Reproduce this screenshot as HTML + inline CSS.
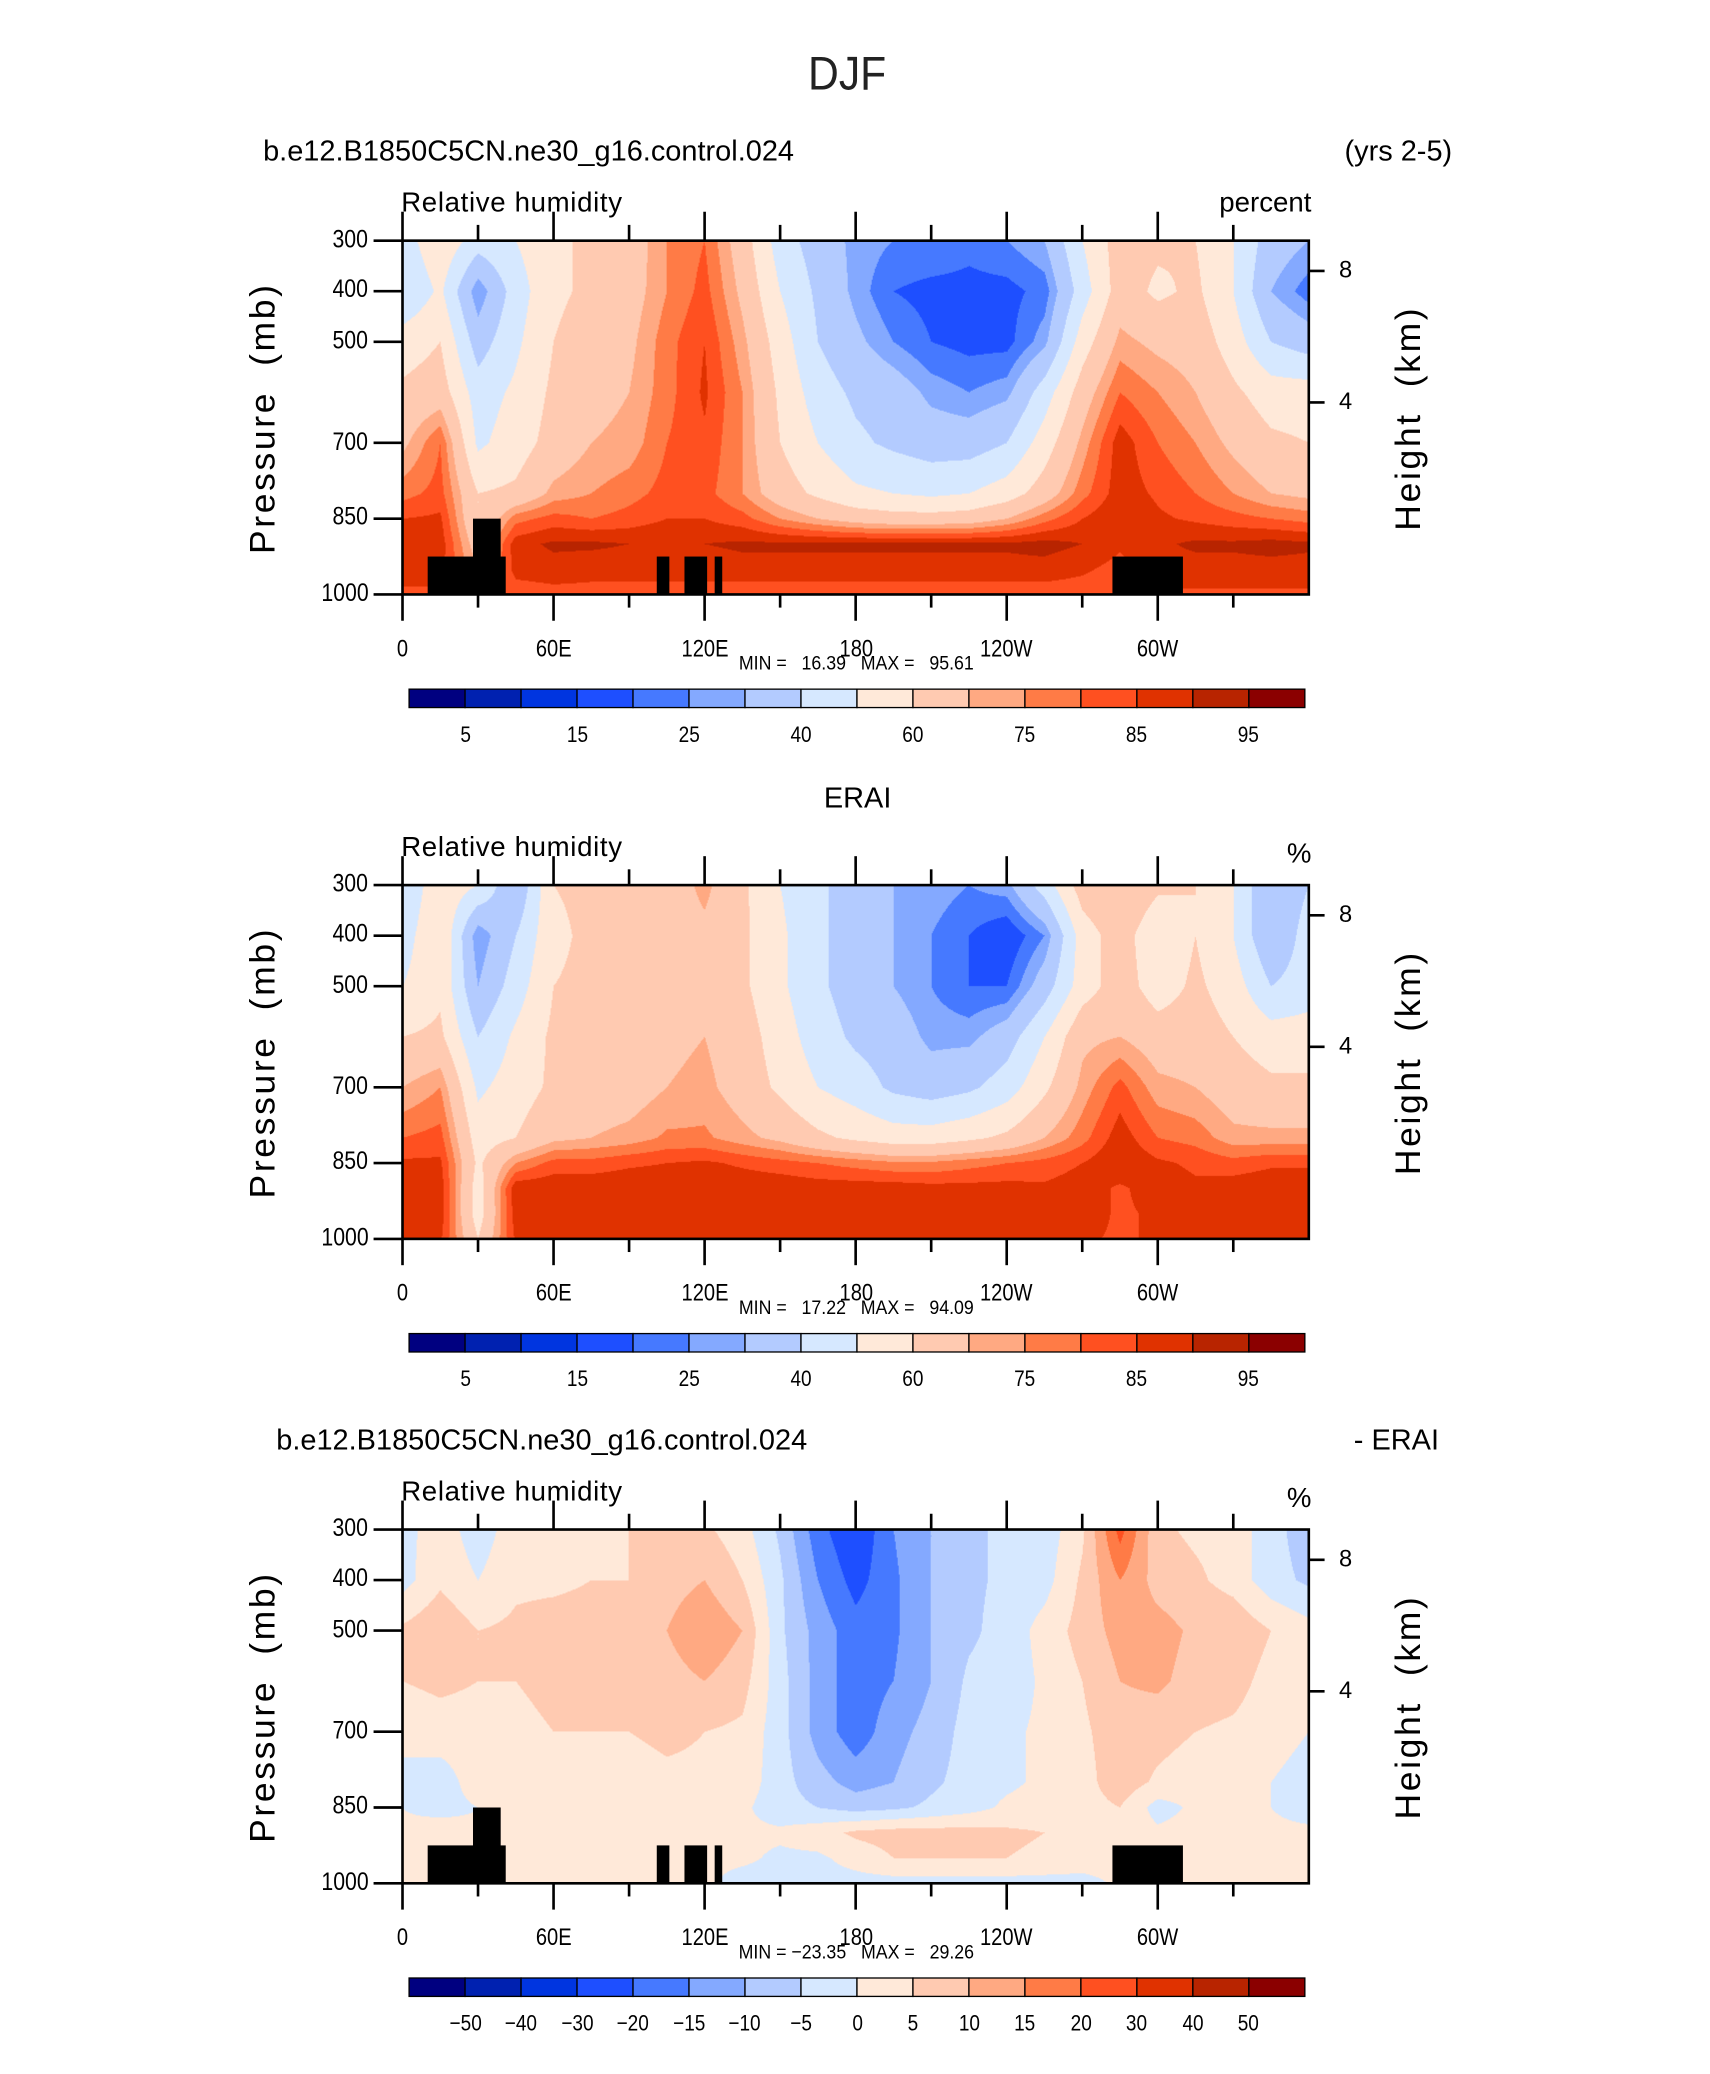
<!DOCTYPE html>
<html><head><meta charset="utf-8">
<style>
html,body{margin:0;padding:0;background:#fff;}
#page{position:relative;width:1300px;height:1577px;transform:scale(1.31538,1.31516);transform-origin:0 0;font-family:"Liberation Sans",sans-serif;color:#000;}
.t{position:absolute;white-space:pre;line-height:1;}
canvas{position:absolute;}
svg{position:absolute;left:0;top:0;}
</style></head>
<body>
<div id="page">
<div class="t" style="left:611px;top:38px;font-size:36px;font-weight:normal;color:#222;transform:scaleX(0.9);">DJF</div>
<svg id="ov" width="1300" height="1577"></svg>
</div>
<script>
// ----- data -----
const lons=[0,15,30,45,60,75,90,105,120,135,150,165,180,195,210,225,240,255,270,285,300,315,330,345,360];
const levs=[300,400,500,600,700,800,850,900,950,1000];
const modelRH=[
[45,58,45,50,58,62,65,75,80,65,45,35,28,25,25,22,25,30,50,65,62,60,50,35,30],
[40,52,25,45,58,62,66,75,82,68,50,38,28,20,18,18,18,22,45,65,58,62,50,30,22],
[55,60,35,48,60,65,68,78,85,72,55,40,32,25,20,18,18,28,55,72,68,66,55,40,35],
[62,65,45,52,62,67,70,78,86,75,58,45,38,35,28,25,28,45,65,80,75,70,62,55,55],
[68,80,48,55,64,70,72,80,84,75,60,50,42,38,35,35,40,55,72,88,80,75,68,62,60],
[78,82,60,62,72,75,78,82,82,75,65,58,52,50,48,50,55,65,78,88,84,80,75,70,68],
[85,86,60,78,82,80,82,85,85,82,75,70,66,64,64,65,70,78,85,90,86,84,82,80,78],
[88,88,65,88,91,91,90,90,90,91,91,91,91,91,91,91,91,92,90,86,89,91,91,92,91],
[87,87,70,87,88,87,87,87,87,88,88,88,88,88,88,88,88,88,86,83,88,88,88,88,88],
[84,84,75,82,83,83,83,83,83,82,82,82,82,82,82,82,82,82,82,80,84,84,84,84,84]];
const eraiRH=[
[40,58,50,30,60,62,62,65,72,62,50,42,35,30,28,25,28,45,65,70,62,60,50,30,40],
[45,60,25,40,58,62,62,65,68,62,52,42,35,30,25,20,15,25,55,65,52,60,50,30,45],
[50,58,30,45,60,62,62,65,68,62,52,42,35,30,25,20,20,35,55,65,55,62,55,40,45],
[60,62,40,52,62,62,64,68,70,65,55,45,38,35,28,28,35,50,68,70,65,65,60,55,55],
[70,75,48,55,62,65,66,70,72,66,58,50,45,38,35,38,45,58,72,82,72,70,65,62,62],
[80,82,55,60,68,70,72,76,76,72,68,62,58,55,55,58,62,70,78,88,80,78,72,72,72],
[86,86,58,75,82,82,84,85,86,84,82,80,78,76,76,78,80,82,85,90,86,84,82,84,84],
[88,88,55,89,89,89,89,89,89,89,89,88,88,88,87,87,87,86,88,84,88,86,88,89,89],
[88,88,55,88,89,89,89,89,89,89,88,88,87,87,86,86,86,86,88,84,86,86,88,88,88],
[86,86,60,86,87,87,87,87,87,87,87,87,86,86,86,86,86,86,86,84,86,86,86,87,87]];
const diffRH=[
[-2,3,-3,3,4,4,5,8,6,2,-6,-18,-25,-15,-10,-6,-4,-3,4,22,6,4,3,-3,-8],
[-2,4,0,4,4,5,5,8,10,5,-4,-15,-22,-16,-10,-6,-4,-2,6,15,8,6,3,-3,-6],
[6,9,5,6,7,7,8,10,14,10,-4,-12,-18,-16,-10,-6,-3,2,7,12,12,9,9,5,2],
[5,6,5,5,6,6,7,8,10,7,-3,-12,-18,-15,-10,-4,-3,1,5,10,11,8,7,3,0],
[2,3,3,4,5,5,5,6,5,4,-3,-12,-18,-12,-8,-3,-1,1,4,8,7,5,4,2,0],
[-2,-3,3,5,4,3,3,4,4,3,-3,-8,-12,-10,-6,-3,-1,1,3,8,4,2,2,0,-2],
[0,-2,0,2,2,2,1,2,1,1,-3,-5,-7,-6,-4,-2,1,2,3,5,-2,1,1,0,-2],
[1,3,1,1,1,1,1,1,1,1,1,3,6,7,7,7,6,5,3,3,1,2,2,1,1],
[1,1,1,1,1,1,1,1,1,1,-1,-1,2,5,5,5,5,4,3,2,1,1,1,1,1],
[1,1,1,1,1,1,1,1,1,-2,-2,-2,-2,-2,-2,-2,-2,-2,-2,1,1,1,1,1,1]];
const rhLevels=[5,10,15,20,25,30,40,50,60,70,75,80,85,90,95];
const rhLabels=["5","15","25","40","60","75","85","95"];
const diffLevels=[-50,-40,-30,-20,-15,-10,-5,0,5,10,15,20,30,40,50];
const diffLabels=["−50","−40","−30","−20","−15","−10","−5","0","5","10","15","20","30","40","50"];
const colors=["#000080","#0021b0","#0035e0","#1e4fff","#4679ff","#84a9ff","#b3cbff","#d6e8ff","#ffe9d9","#ffcab1","#ffa982","#ff7b46","#ff5020","#e03200","#b82400","#8b0000"];
// topography: [lonStart, lonEnd, topPressure]
const topoLon0=[10,28,101,112,124,282];
const topoLon1=[41,39,106,121,127,310];
const topoP=[925,850,925,925,925,925];
const pTicks=[300,400,500,700,850,1000];
const lonTicks=[0,60,120,180,240,300];
const lonLabels=["0","60E","120E","180","120W","60W"];

// ----- layout -----
const PX0=306,PX1=995,PH=269;
const panels=[
 {top:183,field:modelRH,levels:rhLevels,labels:rhLabels,labIdx:[1,3,5,7,9,11,13,15],topo:true,unit:"percent",minmax:"MIN =   16.39   MAX =   95.61",name:"model"},
 {top:673,field:eraiRH,levels:rhLevels,labels:rhLabels,labIdx:[1,3,5,7,9,11,13,15],topo:false,unit:"%",minmax:"MIN =   17.22   MAX =   94.09",name:"erai"},
 {top:1163,field:diffRH,levels:diffLevels,labels:diffLabels,labIdx:[1,2,3,4,5,6,7,8,9,10,11,12,13,14,15],topo:true,unit:"%",minmax:"MIN = −23.35   MAX =   29.26",name:"diff"}];
const xOf=l=>PX0+(l/360)*(PX1-PX0);
const yOf=(p,top)=>top+(p-300)/700*PH;
const page=document.getElementById('page');
const ov=document.getElementById('ov');
const NS='http://www.w3.org/2000/svg';
function txt(s,x,y,size,anchor,name,extra){
 const d=document.createElement('div');d.className='t';d.textContent=s;
 d.style.fontSize=size+'px';d.style.top=y+'px';
 if(anchor==='end'){d.style.right=(1300-x)+'px';}
 else if(anchor==='middle'){d.style.left=x+'px';d.style.transform='translateX(-50%)';}
 else d.style.left=x+'px';
 if(extra)Object.assign(d.style,extra);
 
 
 page.appendChild(d);return d;}
function line(x1,y1,x2,y2,w){const l=document.createElementNS(NS,'line');
 l.setAttribute('x1',x1);l.setAttribute('y1',y1);l.setAttribute('x2',x2);l.setAttribute('y2',y2);
 l.setAttribute('stroke','#000');l.setAttribute('stroke-width',w);ov.appendChild(l);return l;}
function rect(x,y,w,h,fill,sw){const r=document.createElementNS(NS,'rect');
 r.setAttribute('x',x);r.setAttribute('y',y);r.setAttribute('width',w);r.setAttribute('height',h);
 r.setAttribute('fill',fill);if(sw){r.setAttribute('stroke','#000');r.setAttribute('stroke-width',sw);}
 ov.appendChild(r);return r;}
function sample(f,lon,p){
 let i=Math.min(lons.length-2,Math.floor(lon/15));let fx=(lon-lons[i])/15;
 let j=0;while(j<levs.length-2&&p>levs[j+1])j++;
 let fy=(p-levs[j])/(levs[j+1]-levs[j]);fy=Math.max(0,Math.min(1,fy));
 const a=f[j][i],b=f[j][i+1],c=f[j+1][i],d=f[j+1][i+1];
 return (a*(1-fx)+b*fx)*(1-fy)+(c*(1-fx)+d*fx)*fy;}
function colIdx(v,L){let k=0;while(k<L.length&&v>=L[k])k++;return k;}
panels.forEach((P,pi)=>{
 const top=P.top;
 const cv=document.createElement('canvas');
 const W=906,H=354;cv.width=W;cv.height=H;
 cv.style.left=PX0+'px';cv.style.top=top+'px';cv.style.width=(PX1-PX0)+'px';cv.style.height=PH+'px';
 
 
 page.insertBefore(cv,ov);
 const ctx=cv.getContext('2d');const img=ctx.createImageData(W,H);
 const rgb=colors.map(c=>[parseInt(c.substr(1,2),16),parseInt(c.substr(3,2),16),parseInt(c.substr(5,2),16)]);
 for(let y=0;y<H;y++){const p=300+(y+0.5)/H*700;
  for(let x=0;x<W;x++){const lon=(x+0.5)/W*360;const v=sample(P.field,lon,p);
   const c=rgb[colIdx(v,P.levels)];const o=(y*W+x)*4;img.data[o]=c[0];img.data[o+1]=c[1];img.data[o+2]=c[2];img.data[o+3]=255;}}
 ctx.putImageData(img,0,0);
 if(P.topo){topoLon0.forEach((l0,k)=>{
  const r=rect(xOf(l0),yOf(topoP[k],top),xOf(topoLon1[k])-xOf(l0),yOf(1000,top)-yOf(topoP[k],top),'#000');
  
  });}
 const fr=rect(PX0,top,PX1-PX0,PH,'none',2);
 
 
 for(let l=0;l<=330;l+=30){const major=l%60===0;const x=xOf(l);
  line(x,top,x,top-(major?22:12),2);line(x,top+PH,x,top+PH+(major?20:10),2);}
 pTicks.forEach(p=>{const y=yOf(p,top);line(PX0-22,y,PX0,y,2);
  txt(String(p),PX0-26,y-10,19,'end','pressure-tick-label',{transform:'scaleX(0.85)',transformOrigin:'right center'});});
 [[8,206-183],[4,306-183]].forEach(h=>{const y=top+h[1];line(PX1,y,PX1+12,y,2);
  txt(String(h[0]),PX1+28,y-10,18,'middle','height-tick-label');});
 lonTicks.forEach((l,k)=>{txt(lonLabels[k],xOf(l),top+PH+32,18,'middle','longitude-tick-label',{transform:'translateX(-50%) scaleX(0.85)'});});
 txt(P.minmax,xOf(180),top+PH+45,15,'middle','min-max-annotation',{transform:'translateX(-50%) scaleX(0.9)'});
 txt('Relative humidity',305,top-39,21,'left','variable-label',{letterSpacing:'0.5px'});
 txt(P.unit,997,top-(P.unit==='%'?34:39),21,'end','units-label');
 txt('Pressure  (mb)',0,0,27,'left','y-axis-title',{left:'200px',top:(top+PH/2)+'px',transform:'translate(-50%,-50%) rotate(-90deg)',letterSpacing:'2px',transformOrigin:'center'});
 txt('Height  (km)',0,0,27,'left','right-axis-title',{left:'1071px',top:(top+PH/2)+'px',transform:'translate(-50%,-50%) rotate(-90deg)',letterSpacing:'2px'});
 const cbT=top+341,cbX0=311,cbX1=992,cbW=(cbX1-cbX0)/16;
 colors.forEach((c,k)=>{const r=rect(cbX0+k*cbW,cbT,cbW,14,c,1);
  
  });
 P.labIdx.forEach((k,m)=>{txt(P.labels[m],cbX0+k*cbW,cbT+26,17,'middle','colorbar-label',{transform:'translateX(-50%) scaleX(0.85)'});});
});
txt('b.e12.B1850C5CN.ne30_g16.control.024',200,104,22,'left','model-case-title');
txt('(yrs 2-5)',1104,104,22,'end','years-label');
txt('ERAI',652,596,22,'middle','erai-title');
txt('b.e12.B1850C5CN.ne30_g16.control.024',210,1084,22,'left','diff-case-title');
txt('- ERAI',1094,1084,22,'end','diff-erai-label');
</script>
</body></html>
